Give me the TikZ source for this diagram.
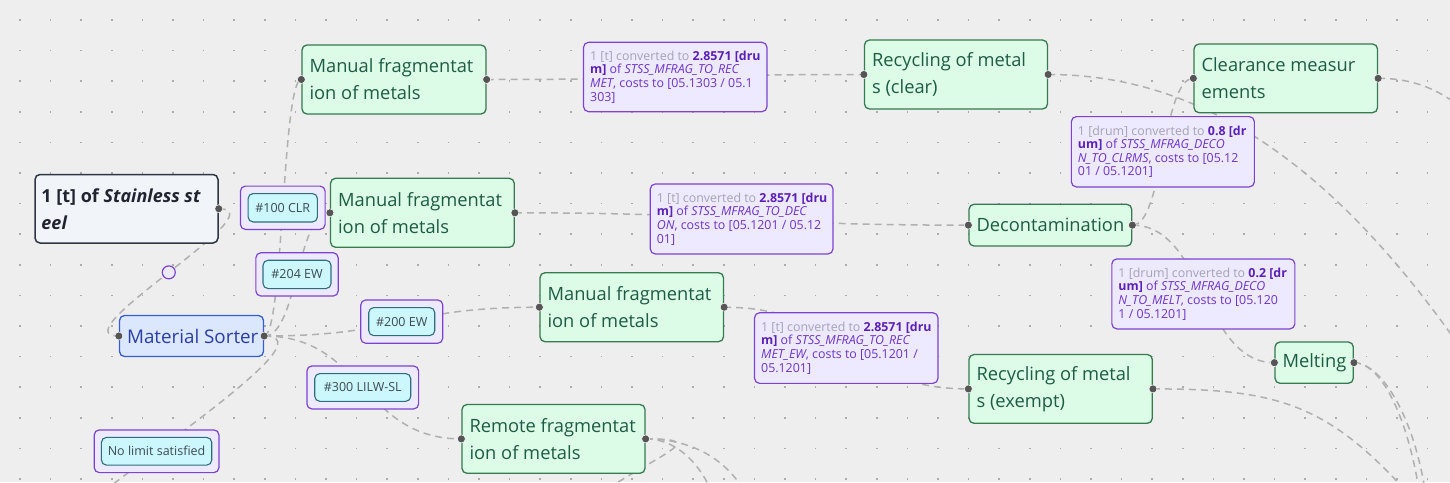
\documentclass[tikz,border=0pt]{standalone}
\usepackage{fontspec}
\setmainfont{Open Sans}
\definecolor{bgc}{HTML}{EEEEEE}
\definecolor{dotc}{HTML}{ABABAB}
\definecolor{edgec}{HTML}{B0B0B0}
\definecolor{portc}{HTML}{555555}
\definecolor{greenf}{HTML}{DCFCE7}
\definecolor{greend}{HTML}{357A50}
\definecolor{greent}{HTML}{1E5B45}
\definecolor{purpf}{HTML}{EDE9FE}
\definecolor{purpd}{HTML}{7C42D0}
\definecolor{purpt}{HTML}{6D34C8}
\definecolor{purpb}{HTML}{5B21B6}
\definecolor{grayt}{HTML}{A7A2B5}
\definecolor{cyanf}{HTML}{CCF8FD}
\definecolor{cyand}{HTML}{2D6E7E}
\definecolor{tagt}{HTML}{3B4A50}
\definecolor{steelf}{HTML}{F1F4F9}
\definecolor{steeld}{HTML}{2E3544}
\definecolor{steelt}{HTML}{1F2430}
\definecolor{sorterf}{HTML}{DBE7FD}
\definecolor{sorterd}{HTML}{3A5AD3}
\definecolor{sortert}{HTML}{2B3EA6}
\pgfdeclarelayer{bg}
\pgfdeclarelayer{edgelayer}
\pgfsetlayers{bg,edgelayer,main}
\tikzset{
  boxbase/.style={rectangle, rounded corners=5pt, inner sep=0pt, line width=1.3pt},
  procbox/.style={boxbase, draw=greend, fill=greenf},
  proctext/.style={anchor=west, inner sep=0pt, align=left, text=greent, font=\fontsize{18.3}{27}\selectfont},
  steelbox/.style={boxbase, draw=steeld, fill=steelf, line width=1.5pt},
  steeltext/.style={anchor=west, inner sep=0pt, align=left, text=steelt, font=\fontsize{18}{27}\selectfont\bfseries},
  sorterbox/.style={boxbase, draw=sorterd, fill=sorterf},
  sortertext/.style={anchor=west, inner sep=0pt, text=sortert, font=\fontsize{18.8}{24}\selectfont},
  convbox/.style={boxbase, draw=purpd, fill=purpf, line width=1.2pt},
  convtext/.style={anchor=west, inner sep=0pt, align=left, text=purpt, font=\fontsize{12.4}{13.6}\selectfont},
  tagouter/.style={boxbase, draw=purpd, fill=purpf, line width=1.2pt},
  taginner/.style={boxbase, draw=cyand, fill=cyanf, line width=1.1pt, text=tagt, font=\fontsize{12.5}{14}\selectfont},
  port/.style={circle, fill=portc, draw=white, line width=0.5pt, inner sep=0pt, minimum size=8pt},
  edge/.style={draw=edgec, line width=1.5pt, dash pattern=on 7pt off 5pt},
  midmark/.style={circle, draw=purpd, fill=purpf, line width=1.2pt, inner sep=0pt, minimum size=13pt},
}
\newcommand{\cg}[1]{{\color{grayt}#1}}
\newcommand{\cb}[1]{{\bfseries\color{purpb}#1}}
\begin{document}
\begin{tikzpicture}[x=1pt,y=-1pt]
\useasboundingbox (0,0) rectangle (1450,482);
\begin{pgfonlayer}{bg}
  \fill[bgc] (0,0) rectangle (1450,482);
  \foreach \i in {0,...,46}{\foreach \j in {0,...,15}{
    \fill[dotc] ({20+30.6*\i-0.8},{20+30.6*\j-0.8}) rectangle +(1.6,1.6);}}
\end{pgfonlayer}

% ---------- nodes ----------
\node[steelbox, minimum width=183pt, minimum height=68.5pt] (steel) at (126.5,208.75) {};
\node[steeltext] (steelt) at ([xshift=7pt]steel.west) {1 [t] of \textit{Stainless st}\\\textit{eel}};

\node[sorterbox, minimum width=144pt, minimum height=41pt] (sorter) at (191.5,336) {};
\node[sortertext] (sortert) at ([xshift=8pt]sorter.west) {Material Sorter};

\node[procbox, minimum width=184pt, minimum height=69pt] (mf1) at (394,79.5) {};
\node[proctext] (mf1t) at ([xshift=8pt]mf1.west) {Manual fragmentat\\ion of metals};
\node[procbox, minimum width=183.7pt, minimum height=69pt] (mf2) at (422.4,212.8) {};
\node[proctext] (mf2t) at ([xshift=8pt]mf2.west) {Manual fragmentat\\ion of metals};
\node[procbox, minimum width=183.5pt, minimum height=69pt] (mf3) at (631.75,307.2) {};
\node[proctext] (mf3t) at ([xshift=8pt]mf3.west) {Manual fragmentat\\ion of metals};
\node[procbox, minimum width=183pt, minimum height=68.8pt] (remote) at (553.5,438.9) {};
\node[proctext] (remotet) at ([xshift=8pt]remote.west) {Remote fragmentat\\ion of metals};
\node[procbox, minimum width=183pt, minimum height=69pt] (recclear) at (956,74.5) {};
\node[proctext] (recceart) at ([xshift=8pt]recclear.west) {Recycling of metal\\s (clear)};
\node[procbox, minimum width=183.5pt, minimum height=68.7pt] (clear) at (1285.75,78.35) {};
\node[proctext] (cleart) at ([xshift=8pt]clear.west) {Clearance measur\\ements};
\node[procbox, minimum width=162.7pt, minimum height=41.7pt] (decon) at (1050.35,225.15) {};
\node[proctext] (decont) at ([xshift=8pt]decon.west) {Decontamination};
\node[procbox, minimum width=78.3pt, minimum height=41.3pt] (melt) at (1314.15,362.65) {};
\node[proctext] (meltt) at ([xshift=8pt]melt.west) {Melting};
\node[procbox, minimum width=183.3pt, minimum height=68.8pt] (recex) at (1060.65,388.9) {};
\node[proctext] (recext) at ([xshift=8pt]recex.west) {Recycling of metal\\s (exempt)};

\coordinate (nolim) at (49,566.5);
\coordinate (o1) at (1460,347);
\coordinate (o2) at (1470,115);
\coordinate (o3) at (1425,490);
\coordinate (o4) at (1419,490);
\coordinate (o5) at (1405,490);
\coordinate (o6) at (590,500);
\coordinate (o7) at (712,492);
\coordinate (o8) at (745,492);

% ---------- edges ----------
\begin{pgfonlayer}{edgelayer}
\begin{scope}
\clip (0,0) rectangle (1450,482);
\draw[edge] (steel.east) .. controls +(62,0) and +(-62,0) .. (sorter.west) coordinate[pos=0.5] (m0);
\draw[edge] (sorter.east) .. controls +(19.25,0) and +(-19.25,0) .. (mf1.west) coordinate[pos=0.5] (m1);
\draw[edge] (sorter.east) .. controls +(33.5,0) and +(-33.5,0) .. (mf2.west) coordinate[pos=0.5] (m2);
\draw[edge] (sorter.east) .. controls +(138.25,0) and +(-138.25,0) .. (mf3.west) coordinate[pos=0.5] (m3);
\draw[edge] (sorter.east) .. controls +(99.25,0) and +(-99.25,0) .. (remote.west) coordinate[pos=0.5] (m4);
\draw[edge] (sorter.east) .. controls +(91.5,0) and +(-91.5,0) .. (nolim) coordinate[pos=0.5] (m5);
\draw[edge] (mf1.east) .. controls +(189.25,0) and +(-189.25,0) .. (recclear.west) coordinate[pos=0.5] (m6);
\draw[edge] (mf2.east) .. controls +(227.4,0) and +(-227.4,0) .. (decon.west) coordinate[pos=0.5] (m7);
\draw[edge] (mf3.east) .. controls +(122.75,0) and +(-122.75,0) .. (recex.west) coordinate[pos=0.5] (m8);
\draw[edge] (decon.east) .. controls +(31.15,0) and +(-31.15,0) .. (clear.west) coordinate[pos=0.5] (m9);
\draw[edge] (decon.east) .. controls +(71.65,0) and +(-71.65,0) .. (melt.west) coordinate[pos=0.5] (m10);
\draw[edge] (recclear.east) .. controls +(150,0) and +(-130,-186) .. (o1);
\draw[edge] (clear.east) .. controls +(33,0) and +(-30,-27) .. (o2);
\draw[edge] (melt.east) .. controls +(25,0) and +(-13,-80) .. (o3);
\draw[edge] (melt.east) .. controls +(25,0) and +(-13,-80) .. (o4);
\draw[edge] (recex.east) .. controls +(120,0) and +(-80,-88) .. (o5);
\draw[edge] (remote.east) .. controls +(65,0) and +(75,-50) .. (o6);
\draw[edge] (remote.east) .. controls +(25,0) and +(-17,-37) .. (o7);
\draw[edge] (remote.east) .. controls +(45,0) and +(-20,-34) .. (o8);
\end{scope}
\end{pgfonlayer}

% ---------- edge labels ----------
\node[midmark] (mm0) at (m0) {};

\node[tagouter, minimum width=84.7pt, minimum height=43.3pt] (t100) at (m1) {};
\node[taginner, minimum width=69.3pt, minimum height=28.4pt] (t100i) at (t100.center) {\#100 CLR};
\node[tagouter, minimum width=82.3pt, minimum height=43.3pt] (t204) at (m2) {};
\node[taginner, minimum width=68pt, minimum height=28.3pt] (t204i) at (t204.center) {\#204 EW};
\node[tagouter, minimum width=82pt, minimum height=43.3pt] (t200) at (m3) {};
\node[taginner, minimum width=66pt, minimum height=28pt] (t200i) at (t200.center) {\#200 EW};
\node[tagouter, minimum width=111.7pt, minimum height=43pt] (t300) at (m4) {};
\node[taginner, minimum width=96pt, minimum height=27.7pt] (t300i) at (t300.center) {\#300 LILW-SL};
\node[tagouter, minimum width=124.7pt, minimum height=42.7pt] (tnl) at (m5) {};
\node[taginner, minimum width=110.3pt, minimum height=27.7pt] (tnli) at (tnl.center) {No limit satisfied};

\node[convbox, minimum width=183.4pt, minimum height=69.4pt] (l1) at (m6) {};
\node[convtext] (l1t) at ([xshift=7pt]l1.west) {\cg{1 [t] converted to} \cb{2.8571 [dru}\\\cb{m]} of \textit{STSS\_MFRAG\_TO\_REC}\\\textit{MET}, costs to [05.1303 / 05.1\\303]};
\node[convbox, minimum width=182.7pt, minimum height=70pt] (l2) at (m7) {};
\node[convtext] (l2t) at ([xshift=7pt]l2.west) {\cg{1 [t] converted to} \cb{2.8571 [dru}\\\cb{m]} of \textit{STSS\_MFRAG\_TO\_DEC}\\\textit{ON}, costs to [05.1201 / 05.12\\01]};
\node[convbox, minimum width=183.4pt, minimum height=70.6pt] (l3) at (m8) {};
\node[convtext] (l3t) at ([xshift=7pt]l3.west) {\cg{1 [t] converted to} \cb{2.8571 [dru}\\\cb{m]} of \textit{STSS\_MFRAG\_TO\_REC}\\\textit{MET\_EW}, costs to [05.1201 /\\05.1201]};
\node[convbox, minimum width=183pt, minimum height=70.3pt] (l4) at (m9) {};
\node[convtext] (l4t) at ([xshift=7pt]l4.west) {\cg{1 [drum] converted to} \cb{0.8 [dr}\\\cb{um]} of \textit{STSS\_MFRAG\_DECO}\\\textit{N\_TO\_CLRMS}, costs to [05.12\\01 / 05.1201]};
\node[convbox, minimum width=183pt, minimum height=70pt] (l5) at (m10) {};
\node[convtext] (l5t) at ([xshift=7pt]l5.west) {\cg{1 [drum] converted to} \cb{0.2 [dr}\\\cb{um]} of \textit{STSS\_MFRAG\_DECO}\\\textit{N\_TO\_MELT}, costs to [05.120\\1 / 05.1201]};

% ---------- ports ----------
\node[port] (ps) at (steel.east) {};
\node[port] (psi) at (sorter.west) {};
\node[port] (pso) at (sorter.east) {};
\node[port] (p1i) at (mf1.west) {};
\node[port] (p1o) at (mf1.east) {};
\node[port] (p2i) at (mf2.west) {};
\node[port] (p2o) at (mf2.east) {};
\node[port] (p3i) at (mf3.west) {};
\node[port] (p3o) at (mf3.east) {};
\node[port] (pri) at (remote.west) {};
\node[port] (pro) at (remote.east) {};
\node[port] (pci) at (recclear.west) {};
\node[port] (pco) at (recclear.east) {};
\node[port] (pmi) at (clear.west) {};
\node[port] (pmo) at (clear.east) {};
\node[port] (pdi) at (decon.west) {};
\node[port] (pdo) at (decon.east) {};
\node[port] (pli) at (melt.west) {};
\node[port] (plo) at (melt.east) {};
\node[port] (pei) at (recex.west) {};
\node[port] (peo) at (recex.east) {};
\end{tikzpicture}
\end{document}
